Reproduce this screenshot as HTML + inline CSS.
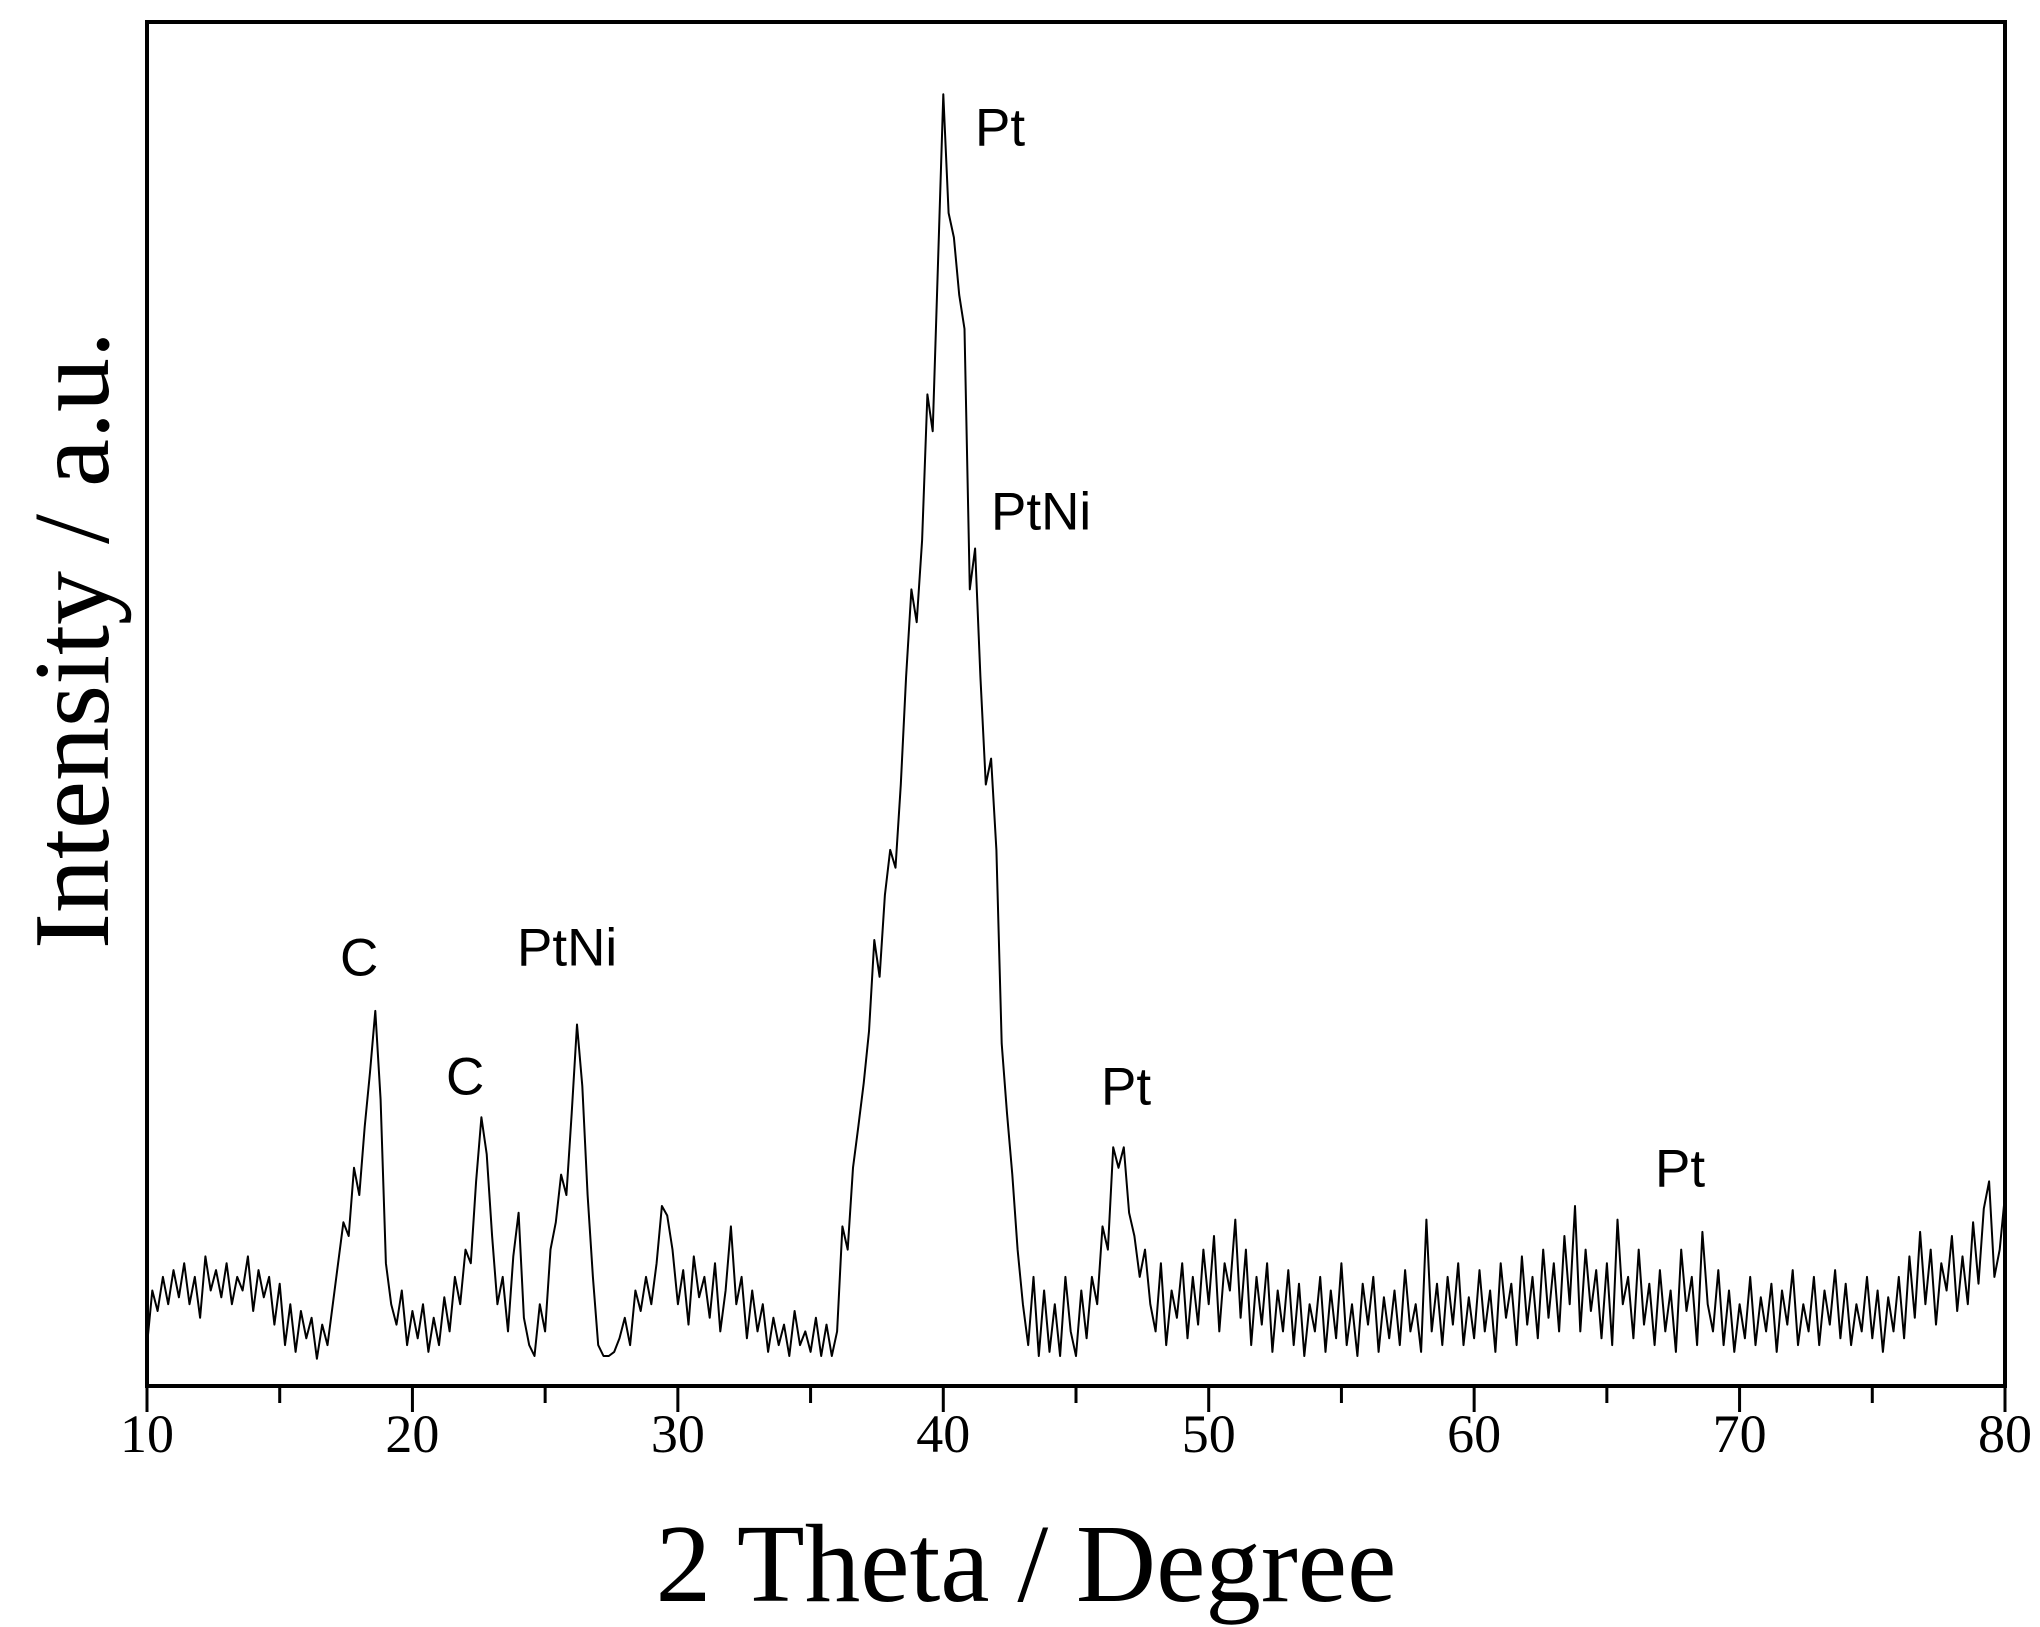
<!DOCTYPE html>
<html><head><meta charset="utf-8"><style>
html,body{margin:0;padding:0;background:#fff;}
svg{display:block;}
</style></head><body>
<svg id="chart" width="2040" height="1627" viewBox="0 0 2040 1627" xmlns="http://www.w3.org/2000/svg">
<rect x="147" y="22" width="1858" height="1364" fill="none" stroke="#000" stroke-width="4"/>
<g id="ticks"></g>
<path id="series" fill="none" stroke="#000" stroke-width="2" stroke-linejoin="round"/>
<g font-family="Liberation Sans, sans-serif" font-size="53" fill="#000" dominant-baseline="central">
<text x="975" y="128">Pt</text>
<text x="991" y="512">PtNi</text>
<text x="340" y="958">C</text>
<text x="446" y="1077">C</text>
<text x="517" y="948">PtNi</text>
<text x="1101" y="1087">Pt</text>
<text x="1655" y="1169">Pt</text>
</g>
<g id="ticklabels" font-family="Liberation Serif, serif" font-size="54" fill="#000" text-anchor="middle"></g>
<text x="1026" y="1601" font-family="Liberation Serif, serif" font-size="111" text-anchor="middle">2 Theta / Degree</text>
<text transform="translate(108,640) rotate(-90)" font-family="Liberation Serif, serif" font-size="108" text-anchor="middle">Intensity / a.u.</text>
</svg>
<script>
const xStart = 10;
const xStep = 0.2;
const intensity = [
30,70,55,80,60, 85,65,90,60,80, 50,95,70,85,65, 90,60,80,70,95, 55,85,65,80,45,
75,30,60,25,55, 35,50,20,45,30, 60,90,120,110,160, 140,190,230,275,210, 90,60,45,70,30,
55,35,60,25,50, 30,65,40,80,60, 100,90,150,197,170, 110,60,80,40,95, 127,50,30,22,60,
40,100,120,155,140, 200,265,220,140,80, 30,22,22,25,35, 50,30,70,55,80, 60,90,132,125,100,
60,85,45,95,65, 80,50,90,40,70, 117,60,80,35,70, 40,60,25,50,30, 45,22,55,30,40,
25,50,22,45,22, 40,117,100,160,190, 222,260,327,300,360, 393,380,441,520,584, 560,620,727,700,823,
947,860,842,800,775, 584,614,520,441,460, 393,251,200,155,100, 60,30,80,22,70, 25,60,22,80,40,
22,70,35,80,60, 117,100,175,160,175, 127,110,80,100,60, 40,90,30,70,50, 90,35,80,45,100,
60,110,40,90,70, 122,50,100,30,80, 45,90,25,70,40, 85,30,75,22,60, 40,80,25,70,35,
90,30,60,22,75, 45,80,25,65,35, 70,30,85,40,60, 25,122,40,75,30, 80,45,90,30,65,
35,85,40,70,25, 90,50,75,30,95, 45,80,35,100,50, 90,40,110,60,132, 40,100,55,85,35,
90,30,122,60,80, 35,100,45,75,30, 85,40,70,25,100, 55,80,30,113,60, 40,85,30,70,25,
60,35,80,30,65, 40,75,25,70,45, 85,30,60,40,80, 30,70,45,85,35, 75,30,60,40,80,
35,70,25,65,40, 80,35,95,50,113, 60,100,45,90,70, 110,55,95,60,120, 75,130,150,80,100,
140
];
const majorTicks = [10,20,30,40,50,60,70,80];
const minorTicks = [15,25,35,45,55,65,75];
const tickLabels = ["10","20","30","40","50","60","70","80"];

const X0=147, X1=2005, Y0=1386, Y1=22;
const xScale = v => X0 + (v-10)/(80-10)*(X1-X0);
const yScale = v => Y0 - v/1000*(Y0-Y1);
const NS="http://www.w3.org/2000/svg";

let d="";
intensity.forEach((v,i)=>{
  const x = xScale(xStart + i*xStep), y = yScale(v);
  d += (i?"L":"M") + x.toFixed(1) + "," + y.toFixed(1);
});
document.getElementById('series').setAttribute('d', d);

const tg=document.getElementById('ticks');
const lg=document.getElementById('ticklabels');
majorTicks.forEach((t,i)=>{
  const l=document.createElementNS(NS,'line');
  
  
  l.setAttribute('x1',xScale(t));l.setAttribute('x2',xScale(t));
  l.setAttribute('y1',Y0);l.setAttribute('y2',Y0+26);
  l.setAttribute('stroke','#000');l.setAttribute('stroke-width','3');
  tg.appendChild(l);
  const tx=document.createElementNS(NS,'text');
  
  
  tx.setAttribute('x',xScale(t));tx.setAttribute('y',1452);
  tx.textContent=tickLabels[i];
  lg.appendChild(tx);
});
minorTicks.forEach(t=>{
  const l=document.createElementNS(NS,'line');
  
  
  l.setAttribute('x1',xScale(t));l.setAttribute('x2',xScale(t));
  l.setAttribute('y1',Y0);l.setAttribute('y2',Y0+17);
  l.setAttribute('stroke','#000');l.setAttribute('stroke-width','3');
  tg.appendChild(l);
});
</script>
</body></html>
